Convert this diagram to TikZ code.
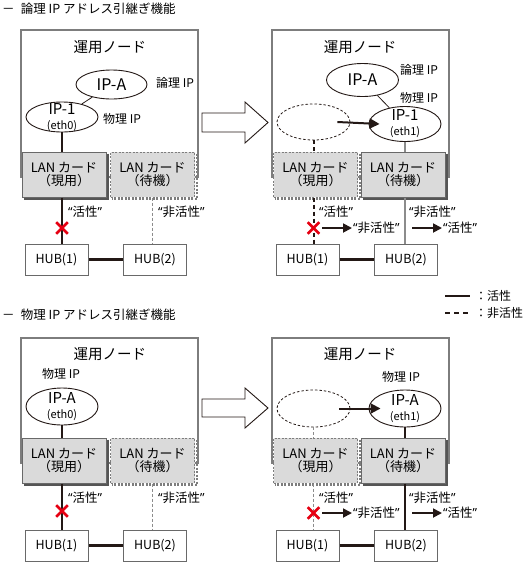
\documentclass[tikz,border=0pt]{standalone}
\usepackage{fontspec}
\setmainfont{Noto Sans CJK JP}
\newfontfamily\quotefont{Noto Sans}
\usepackage{xcolor}
\usepackage{tikz}
\usetikzlibrary{arrows.meta, shapes.geometric, shapes.misc}
\definecolor{boxgray}{RGB}{125,125,125}
\definecolor{cardgray}{RGB}{218,218,218}
\definecolor{cardedge}{RGB}{105,105,105}
\definecolor{shadegray}{RGB}{85,85,85}
\definecolor{linkblack}{RGB}{35,24,21}
\definecolor{idlegray}{RGB}{140,140,140}
\definecolor{failred}{RGB}{230,0,18}
\newcommand{\sz}[1]{\fontsize{#1}{#1}\selectfont}
\newcommand{\qt}[1]{{\quotefont “}#1{\quotefont ”}}
\newcommand{\cardshadow}[2]{%
  \draw[cardshade, #2] ([shift={(1.5,2)}]#1.north east) -- ([shift={(1.5,1.5)}]#1.south east) -- ([shift={(2,1.5)}]#1.south west);}

\begin{document}
\begin{tikzpicture}[x=1pt, y=-1pt,
  heading/.style={anchor=west, inner sep=0pt, font=\sz{12.5}},
  nodebox/.style={draw=boxgray, line width=1.2pt},
  nodetitle/.style={inner sep=0pt, font=\sz{14.5}},
  ipnode/.style={ellipse, draw=linkblack, line width=0.9pt, fill=white, inner sep=0pt, minimum width=72pt, minimum height=30pt, font=\sz{16}},
  iptext/.style={align=center, inner sep=0pt, font=\sz{15}},
  ghostnode/.style={ellipse, draw=linkblack, line width=0.8pt, dash pattern=on 2.5pt off 2pt, minimum width=73pt, minimum height=36pt},
  iplabel/.style={inner sep=0pt, font=\sz{12}},
  lancard/.style={draw=cardedge, fill=cardgray, line width=1pt, minimum width=84pt, minimum height=45pt, inner sep=0pt, align=center, font=\sz{13}},
  sparecard/.style={draw=boxgray, dash pattern=on 2pt off 1.5pt},
  cardshade/.style={draw=shadegray, line width=2pt},
  hubbox/.style={draw=cardedge, line width=1pt, minimum width=63pt, minimum height=31pt, inner sep=0pt, font=\sz{12.5}},
  state/.style={anchor=west, inner sep=1pt, font=\sz{12.5}},
  failmark/.style={cross out, draw=failred, line width=2.6pt, minimum size=9pt, inner sep=0pt},
  uplink/.style={draw=linkblack, line width=2.2pt},
  hublink/.style={draw=linkblack, line width=3pt},
  idleline/.style={draw=idlegray, line width=1.2pt, dash pattern=on 3pt off 2pt},
  downlink/.style={draw=linkblack, line width=2pt, dash pattern=on 4pt off 3pt},
  thinlink/.style={draw=idlegray, line width=1.2pt},
  iplink/.style={draw=linkblack, line width=0.8pt},
  legdash/.style={draw=linkblack, line width=2pt, dash pattern=on 5pt off 4pt},
  movearrow/.style={draw=linkblack, line width=2pt, -{Triangle[length=10pt, width=10pt]}},
  statearrow/.style={draw=linkblack, line width=1.8pt, -{Triangle[length=9pt, width=9pt]}},
  blockarrow/.style={draw=linkblack, line width=0.9pt, fill=white, line join=miter}]
\useasboundingbox (0,0) rectangle (527,566);

% logical IP takeover
\node[heading] (head1) at (2,9) {－\enspace 論理 IP アドレス引継ぎ機能};

% before
\draw[nodebox] (21,30) rectangle (198,177);
\node[nodetitle] (n1) at (110,47) {運用ノード};
\node[ipnode, minimum width=71pt, minimum height=29pt] (ipa1) at (111.5,84.5) {IP-A};
\node[iplabel] (l11) at (175,83) {論理 IP};
\node[ipnode] (ip1) at (62,117) {};
\node[iptext] at ([yshift=-0.5pt]ip1) {IP-1\\{\sz{11}(eth0)}};
\node[iplabel] (l12) at (122,119) {物理 IP};
\draw[iplink] (ipa1) -- (ip1);
\node[lancard] (c11) at (64,174.5) {LAN カード\\（現用）};
\cardshadow{c11}{}
\node[lancard, sparecard] (c12) at (152.5,174.5) {LAN カード\\（待機）};
\cardshadow{c12}{draw=boxgray, dash pattern=on 2pt off 1.5pt}
\draw[uplink] (ip1.south) -- (ip1.south |- c11.north);
\node[hubbox] (h11) at (56.5,259.5) {HUB(1)};
\node[hubbox] (h12) at (155,259.5) {HUB(2)};
\draw[hublink] (h11) -- (h12);
\draw[uplink] (c11.south -| ip1) -- (h11.north -| ip1);
\node[failmark] (x1) at (62,228) {};
\node[state] (s11) at (67,212) {\qt{活性}};
\draw[idleline] (c12.south) -- (c12.south |- h12.north);
\node[state] (s12) at (157,212) {\qt{非活性}};

\draw[blockarrow] (202,113) -- (245,113) -- (245,102) -- (268,122.5) -- (245,143) -- (245,132) -- (202,132) -- cycle;

% after
\draw[nodebox] (272,30) rectangle (449,177);
\node[nodetitle] (n2) at (360,47) {運用ノード};
\node[ipnode, minimum height=33pt] (ipa2) at (362.5,80) {IP-A};
\node[iplabel] (l21) at (419,70) {論理 IP};
\node[iplabel] (l22) at (419,98) {物理 IP};
\node[ghostnode] (g2) at (313.5,122) {};
\node[ipnode, minimum height=35pt] (ip2) at (405,124) {};
\node[iptext] at (ip2) {IP-1\\{\sz{11}(eth1)}};
\draw[iplink] (ipa2) -- (ip2);
\draw[movearrow] ([xshift=-13pt]g2.east) -- ([xshift=11pt]ip2.west);
\node[lancard, sparecard] (c21) at (315.5,174.5) {LAN カード\\（現用）};
\cardshadow{c21}{draw=boxgray, dash pattern=on 2pt off 1.5pt}
\node[lancard] (c22) at (403,174.5) {LAN カード\\（待機）};
\cardshadow{c22}{}
\draw[downlink] (g2.south) -- (g2.south |- c21.north);
\draw[thinlink] (ip2.south) -- (ip2.south |- c22.north);
\node[hubbox] (h21) at (307.5,259.5) {HUB(1)};
\node[hubbox] (h22) at (406,259.5) {HUB(2)};
\draw[hublink] (h21) -- (h22);
\draw[downlink] (c21.south -| g2) -- (h21.north -| g2);
\draw[thinlink] (c22.south -| ip2) -- (h22.north -| ip2);
\node[failmark] (x2) at (313.5,228) {};
\node[state] (s21) at (318,212) {\qt{活性}};
\node[state] (s22) at (352,228) {\qt{非活性}};
\draw[statearrow] ([xshift=3pt]x2.east) -- (s22.west);
\node[state] (s23) at (408,212) {\qt{非活性}};
\coordinate (a2) at (412,228);
\node[state] (s24) at (442,228) {\qt{活性}};
\draw[statearrow] (a2) -- (s24.west);

% legend
\coordinate (lg1a) at (445,296);
\node[state, font=\sz{12}] (lg1) at (474,296) {：活性};
\draw[uplink] (lg1a) -- ([xshift=-4pt]lg1.west);
\coordinate (lg2a) at (445,313);
\node[state, font=\sz{12}] (lg2) at (474,313) {：非活性};
\draw[legdash] (lg2a) -- ([xshift=-4pt]lg2.west);

% physical IP takeover
\node[heading] (head2) at (2,315) {－\enspace 物理 IP アドレス引継ぎ機能};

% before
\draw[nodebox] (21,338) rectangle (198,463);
\node[nodetitle] (n3) at (110,354) {運用ノード};
\node[iplabel] (l31) at (61,374) {物理 IP};
\node[ipnode, minimum height=37pt] (ip3) at (62,406.5) {};
\node[iptext] at (ip3) {IP-A\\{\sz{11}(eth0)}};
\node[lancard] (c31) at (64,460.5) {LAN カード\\（現用）};
\cardshadow{c31}{}
\node[lancard, sparecard] (c32) at (152.5,460.5) {LAN カード\\（待機）};
\cardshadow{c32}{draw=boxgray, dash pattern=on 2pt off 1.5pt}
\draw[uplink] (ip3.south) -- (ip3.south |- c31.north);
\node[hubbox] (h31) at (56.5,545.5) {HUB(1)};
\node[hubbox] (h32) at (155,545.5) {HUB(2)};
\draw[hublink] (h31) -- (h32);
\draw[uplink] (c31.south -| ip3) -- (h31.north -| ip3);
\node[failmark] (x3) at (62,511) {};
\node[state] (s31) at (67,498) {\qt{活性}};
\draw[idleline] (c32.south) -- (c32.south |- h32.north);
\node[state] (s32) at (157,498) {\qt{非活性}};

\draw[blockarrow] (202,399) -- (245,399) -- (245,388) -- (268,408) -- (245,428) -- (245,417) -- (202,417) -- cycle;

% after
\draw[nodebox] (272,338) rectangle (449,463);
\node[nodetitle] (n4) at (360,354) {運用ノード};
\node[iplabel] (l41) at (401,377) {物理 IP};
\node[ghostnode, minimum height=37pt] (g4) at (313.5,408.5) {};
\node[ipnode, minimum height=37pt] (ip4) at (405,408.5) {};
\node[iptext] at (ip4) {IP-A\\{\sz{11}(eth1)}};
\draw[movearrow] ([xshift=-11pt]g4.east) -- ([xshift=12pt]ip4.west);
\node[lancard, sparecard] (c41) at (315.5,460.5) {LAN カード\\（現用）};
\cardshadow{c41}{draw=boxgray, dash pattern=on 2pt off 1.5pt}
\node[lancard] (c42) at (403,460.5) {LAN カード\\（待機）};
\cardshadow{c42}{}
\draw[idleline] (g4.south) -- (g4.south |- c41.north);
\draw[uplink] (ip4.south) -- (ip4.south |- c42.north);
\node[hubbox] (h41) at (307.5,545.5) {HUB(1)};
\node[hubbox] (h42) at (406,545.5) {HUB(2)};
\draw[hublink] (h41) -- (h42);
\draw[idleline] (c41.south -| g4) -- (h41.north -| g4);
\draw[uplink] (c42.south -| ip4) -- (h42.north -| ip4);
\node[failmark] (x4) at (313.5,513) {};
\node[state] (s41) at (318,498) {\qt{活性}};
\node[state] (s42) at (352,513) {\qt{非活性}};
\draw[statearrow] ([xshift=3pt]x4.east) -- (s42.west);
\node[state] (s43) at (408,498) {\qt{非活性}};
\coordinate (a4) at (412,513);
\node[state] (s44) at (442,513) {\qt{活性}};
\draw[statearrow] (a4) -- (s44.west);
\end{tikzpicture}
\end{document}
